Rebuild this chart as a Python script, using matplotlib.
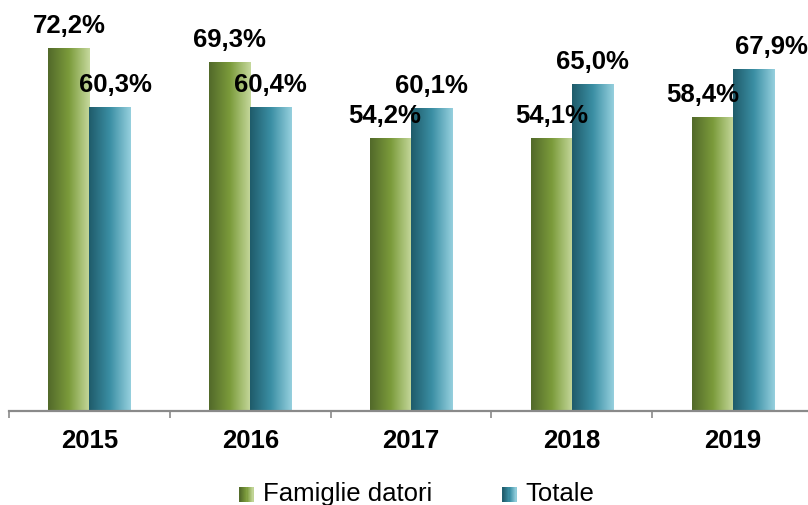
import numpy as np
import matplotlib
matplotlib.use("Agg")
import matplotlib.pyplot as plt
from matplotlib.colors import LinearSegmentedColormap
from matplotlib.patches import Rectangle
from matplotlib.legend_handler import HandlerBase

plt.rcParams['font.family'] = ['Liberation Sans', 'DejaVu Sans']

years = ['2015', '2016', '2017', '2018', '2019']
famiglie = [72.2, 69.3, 54.2, 54.1, 58.4]
totale = [60.3, 60.4, 60.1, 65.0, 67.9]
series_names = ['Famiglie datori', 'Totale']

green = LinearSegmentedColormap.from_list('g', ['#52692a', '#7b9b3b', '#c6d99d'])
teal = LinearSegmentedColormap.from_list('t', ['#1f5b6a', '#3b8fa4', '#96d0de'])

# label nudges in pixels (x), to mimic the original placement
nudge_f = [0, 0, -6, 0, -9]
nudge_t = [6, 0, 0, 0, 18]

fig = plt.figure(figsize=(8.08, 5.05), dpi=100)
ax = fig.add_axes([9 / 808, 94.5 / 505, 804 / 808, 401 / 505])

bw = 0.255
grad = np.linspace(0, 1, 256).reshape(1, -1)
x = np.arange(len(years))
for i in range(len(years)):
    for val, off, cmap, nud in [(famiglie[i], -bw / 2, green, nudge_f[i]),
                                (totale[i], bw / 2, teal, nudge_t[i])]:
        x0 = x[i] + off - bw / 2
        ax.imshow(grad, extent=(x0, x0 + bw, 0, val), cmap=cmap,
                  aspect='auto', interpolation='bilinear', zorder=2)
        ax.annotate(f"{val:.1f}%".replace('.', ','), (x[i] + off, val),
                    xytext=(nud * 0.72, 11.5), textcoords='offset points',
                    ha='center', va='baseline', fontsize=18.5,
                    fontweight='bold', zorder=5)

ax.set_xlim(-0.5, len(years) - 0.5)
ax.set_ylim(0, 80)
for s in ['left', 'right', 'top']:
    ax.spines[s].set_visible(False)
ax.spines['bottom'].set_color('#8a8a8a')
ax.spines['bottom'].set_linewidth(1.6)
ax.set_yticks([])
ax.set_xticks(np.arange(len(years) + 1) - 0.5)
ax.set_xticklabels([])
ax.set_xticks(x, minor=True)
ax.set_xticklabels(years, minor=True, fontsize=18.5, fontweight='bold')
ax.tick_params(axis='x', which='major', direction='out', length=5,
               width=1.2, color='#8a8a8a')
ax.tick_params(axis='x', which='minor', length=0, pad=13)


class GradHandler(HandlerBase):
    def __init__(self, cmap):
        super().__init__()
        self.cmap = cmap

    def create_artists(self, legend, orig, xd, yd, w, h, fs, trans):
        n = 12
        side = w
        arts = []
        for k in range(n):
            r = Rectangle((xd + side * k / n, yd + (h - side) / 2), side / n + 0.2, side,
                          facecolor=self.cmap((k + 0.5) / n), edgecolor='none',
                          transform=trans)
            arts.append(r)
        return arts


h1 = Rectangle((0, 0), 1, 1)
h2 = Rectangle((0, 0), 1, 1)
fig.legend([h1, h2], series_names, loc='center', bbox_to_anchor=(0.516, 0.022),
           ncol=2, frameon=False, fontsize=18.5, handlelength=0.55,
           handleheight=0.55, handletextpad=0.35, columnspacing=2.75,
           handler_map={h1: GradHandler(green), h2: GradHandler(teal)})

fig.savefig('out.png', dpi=100)
